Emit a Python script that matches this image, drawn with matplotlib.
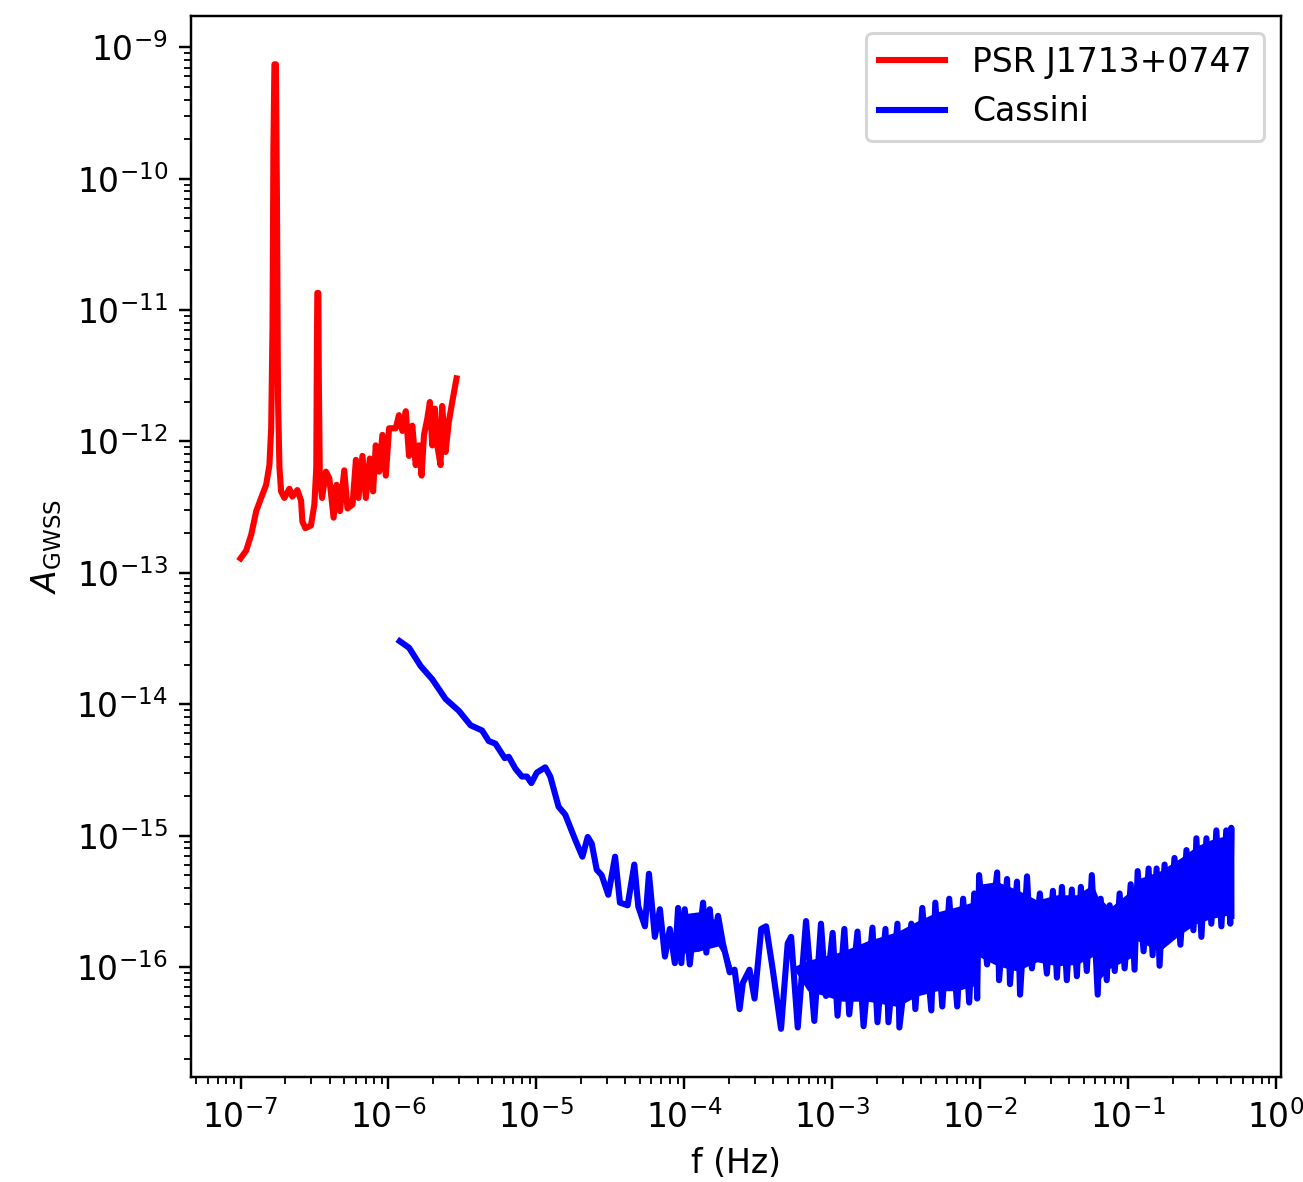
import numpy as np
import matplotlib
matplotlib.use("Agg")
import matplotlib.pyplot as plt

# ===============================
# Data (log10 of frequency in Hz and of amplitude)
# ===============================

# PSR J1713+0747 sensitivity curve
psr_log_f = [
    -7.00, -6.962, -6.928, -6.894, -6.861, -6.827, -6.805, -6.793, -6.784, -6.778,
    -6.771, -6.761, -6.754, -6.747, -6.737, -6.726, -6.704, -6.670, -6.650, -6.616,
    -6.591, -6.582, -6.562, -6.524, -6.501, -6.488, -6.484, -6.481, -6.474, -6.471,
    -6.464, -6.449, -6.423, -6.400, -6.371, -6.351, -6.328, -6.299, -6.277, -6.243,
    -6.220, -6.203, -6.176, -6.153, -6.126, -6.104, -6.086, -6.063, -6.041, -6.018,
    -5.996, -5.951, -5.929, -5.906, -5.883, -5.861, -5.839, -5.816, -5.794, -5.776,
    -5.760, -5.738, -5.720, -5.704, -5.686, -5.670, -5.648, -5.637, -5.614, -5.592,
    -5.569, -5.540,
]
psr_log_amp = [
    -12.89, -12.83, -12.71, -12.53, -12.43, -12.33, -12.18, -11.90, -11.14, -9.78,
    -9.13, -9.13, -10.16, -11.67, -12.20, -12.38, -12.43, -12.36, -12.42, -12.37,
    -12.45, -12.61, -12.66, -12.64, -12.48, -12.20, -11.30, -10.87, -10.87, -11.52,
    -12.28, -12.43, -12.23, -12.28, -12.58, -12.33, -12.53, -12.22, -12.51, -12.48,
    -12.14, -12.43, -12.11, -12.43, -12.13, -12.38, -12.03, -12.23, -11.95, -12.26,
    -11.90, -11.90, -11.80, -11.92, -11.77, -12.11, -11.88, -12.18, -12.03, -12.26,
    -11.95, -11.83, -11.70, -12.03, -11.75, -12.03, -12.18, -11.73, -12.08, -11.85,
    -11.70, -11.52,
]

# Cassini sensitivity curve
cassini_log_f = [
    -5.924, -5.861, -5.782, -5.704, -5.614, -5.524, -5.445, -5.367, -5.322, -5.277,
    -5.214, -5.187, -5.142, -5.098, -5.064, -5.034, -4.997, -4.940, -4.906, -4.850,
    -4.805, -4.738, -4.689, -4.653, -4.626, -4.592, -4.559, -4.514, -4.468, -4.435,
    -4.383, -4.338, -4.311, -4.266, -4.239, -4.199, -4.165, -4.131, -4.098, -4.064,
    -4.042, -4.020, -3.997, -3.963, -3.941, -3.907, -3.873, -3.851, -3.828, -3.806,
    -3.772, -3.739, -3.693, -3.660, -3.626, -3.604, -3.559, -3.525, -3.480, -3.447,
    -3.402, -3.346, -3.301, -3.278, -3.233, -3.177, -3.121, -3.076, -3.042, -2.997,
    -2.964, -2.918, -2.885, -2.829, -2.788, -2.728, -2.694, -2.640, -2.620, -2.559,
    -2.546, -2.465, -2.438, -2.391, -2.330, -2.303, -2.256, -2.209, -2.155, -2.115,
    -2.074, -2.040, -2.020, -2.007, -1.953, -1.885, -1.872, -1.818, -1.798, -1.751,
    -1.730, -1.683, -1.650, -1.596, -1.549, -1.508, -1.481, -1.447, -1.414, -1.380,
    -1.346, -1.319, -1.279, -1.245, -1.205, -1.185, -1.144, -1.124, -1.090, -1.057,
    -1.023, -0.982, -0.956, -0.935, -0.895, -0.861, -0.834, -0.807, -0.787, -0.753,
    -0.720, -0.686, -0.646, -0.605, -0.558, -0.538, -0.504, -0.470, -0.437, -0.403,
    -0.369, -0.336, -0.309, -0.302, -0.301,
]
cassini_log_amp = [
    -13.52, -13.57, -13.71, -13.81, -13.96, -14.05, -14.16, -14.20, -14.28, -14.30,
    -14.41, -14.40, -14.49, -14.55, -14.55, -14.60, -14.52, -14.48, -14.55, -14.78,
    -14.84, -15.03, -15.16, -15.01, -15.06, -15.26, -15.30, -15.45, -15.16, -15.51,
    -15.53, -15.22, -15.54, -15.69, -15.29, -15.77, -15.56, -15.92, -15.71, -15.97,
    -15.55, -15.97, -15.56, -15.98, -15.74, -15.86, -15.51, -15.89, -15.56, -15.82,
    -15.61, -15.82, -16.04, -16.02, -16.32, -16.12, -16.02, -16.24, -15.71, -15.69,
    -16.02, -16.47, -15.82, -15.77, -16.46, -15.65, -16.41, -15.67, -16.22, -15.74,
    -16.37, -15.71, -16.36, -15.73, -16.45, -15.70, -16.42, -15.71, -16.42, -15.67,
    -16.46, -15.67, -16.32, -15.55, -16.33, -15.51, -16.30, -15.48, -16.30, -15.48,
    -16.27, -15.44, -16.24, -15.30, -15.98, -15.28, -16.10, -15.33, -16.13, -15.35,
    -16.21, -15.31, -16.01, -15.44, -16.05, -15.42, -16.08, -15.39, -16.10, -15.41,
    -16.07, -15.39, -16.03, -15.30, -16.21, -15.48, -16.10, -15.53, -16.03, -15.44,
    -16.01, -15.37, -16.02, -15.27, -15.88, -15.25, -15.91, -15.25, -15.99, -15.22,
    -15.77, -15.17, -15.83, -15.11, -15.72, -15.02, -15.77, -15.02, -15.67, -14.96,
    -15.69, -14.96, -15.67, -14.94, -15.61,
]

# Dense part of the Cassini curve: lower and upper edges of the noise band
band_log_f = [
    -4.042, -3.907, -3.772, -3.671, -3.268, -3.166, -2.930,
    -2.761, -2.559, -2.425, -2.290, -2.155, -2.034, -2.007, -1.885, -1.751, -1.616,
    -1.481, -1.346, -1.239, -1.205, -1.124, -0.982, -0.935, -0.787, -0.646, -0.538,
    -0.437, -0.301,
]
band_log_hi = [
    -15.60, -15.58, -15.65, -16.03, -16.00, -15.95, -15.88,
    -15.80, -15.73, -15.65, -15.58, -15.54, -15.50, -15.37, -15.35, -15.41, -15.49,
    -15.45, -15.45, -15.37, -15.46, -15.55, -15.42, -15.33, -15.27, -15.17, -15.08,
    -15.03, -14.99,
]
band_log_lo = [
    -15.90, -15.88, -15.84, -16.03, -16.00, -16.18, -16.26,
    -16.26, -16.30, -16.22, -16.18, -16.18, -16.14, -15.92, -15.99, -16.03, -15.96,
    -15.99, -15.98, -15.92, -16.11, -16.01, -15.93, -15.80, -15.88, -15.75, -15.67,
    -15.63, -15.60,
]


# ===============================
# Figure
# ===============================

def plot_sensitivity():
    plt.rcParams["font.size"] = 10.8
    plt.rcParams["lines.linewidth"] = 2.0
    plt.rcParams["xtick.major.size"] = 4.0
    plt.rcParams["ytick.major.size"] = 4.0
    plt.rcParams["xtick.minor.size"] = 2.3
    plt.rcParams["ytick.minor.size"] = 2.3

    fig = plt.figure(figsize=(1303 / 220, 1182 / 220), dpi=220)
    ax = fig.add_axes([0.1466, 0.0888, 0.8365, 0.8976])

    ax.plot(10 ** np.array(psr_log_f), 10 ** np.array(psr_log_amp),
            color="red", label="PSR J1713+0747")
    ax.plot(10 ** np.array(cassini_log_f), 10 ** np.array(cassini_log_amp),
            color="blue", label="Cassini")
    ax.fill_between(10 ** np.array(band_log_f), 10 ** np.array(band_log_lo),
                    10 ** np.array(band_log_hi), color="blue", linewidth=0)

    ax.set_xscale("log")
    ax.set_yscale("log")
    ax.set_xlabel("f (Hz)")
    ax.set_ylabel(r"$A_{\rm GWSS}$")
    ax.legend(loc="upper right")

    fig.savefig("out.png", dpi=220)
    plt.close(fig)


if __name__ == "__main__":
    plot_sensitivity()
